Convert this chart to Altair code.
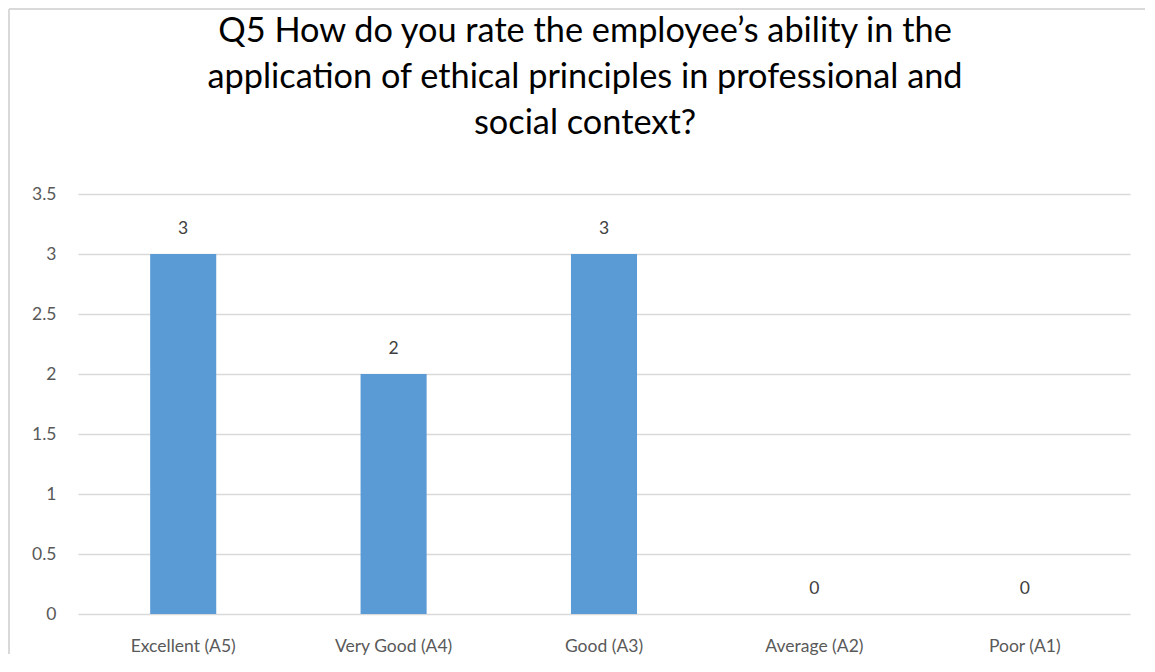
import altair as alt
import pandas as pd

categories = ["Excellent (A5)", "Very Good (A4)", "Good (A3)", "Average (A2)", "Poor (A1)"]
counts = [3, 2, 3, 0, 0]
title_lines = [
    "Q5 How do you rate the employee\u2019s ability in the",
    "application of ethical principles in professional and",
    "social context?",
]

df = pd.DataFrame({"category": categories, "count": counts})

FONT = "Lato"
LABEL_COLOR = "#595959"
BORDER = "#d9d9d9"

x = alt.X(
    "category:N",
    sort=categories,
    scale=alt.Scale(paddingInner=0.686, paddingOuter=0.343),
    axis=alt.Axis(
        title=None, labelAngle=0, domain=False, ticks=False, labelPadding=23,
        labelFontSize=17.5, labelColor=LABEL_COLOR, labelFont=FONT,
    ),
)
y = alt.Y(
    "count:Q",
    scale=alt.Scale(domain=[0, 3.5], nice=False),
    axis=alt.Axis(
        title=None, values=[0, 0.5, 1, 1.5, 2, 2.5, 3, 3.5], domain=False, ticks=False,
        labelPadding=22, labelFontSize=17.5, labelColor=LABEL_COLOR, labelFont=FONT,
        gridColor="#d9d9d9", gridWidth=1.5, labelExpr="datum.value",
    ),
)

bars = alt.Chart(df).mark_bar(color="#5b9bd5").encode(x=x, y=y)
labels = alt.Chart(df).mark_text(
    dy=-25, fontSize=17.5, color="#404040", font=FONT, baseline="middle"
).encode(x=x, y=y, text="count:Q")

# outer chart frame (top and left edges, as in the reference)
frame_top = alt.Chart(df).mark_rule(color=BORDER, strokeWidth=2).encode(
    x=alt.value(-69), x2=alt.value(1067), y=alt.value(-185)
)
frame_left = alt.Chart(df).mark_rule(color=BORDER, strokeWidth=2).encode(
    x=alt.value(-69), y=alt.value(-185), y2=alt.value(460)
)

chart = alt.layer(frame_top, frame_left, bars, labels).properties(
    width=1052,
    height=420,
    padding={"left": 0, "top": 0, "right": 0, "bottom": 0},
    title=alt.TitleParams(
        text=title_lines, fontSize=34.3, font=FONT, fontWeight="normal", color="#000000",
        anchor="middle", offset=-133, lineHeight=46, dx=-19,
    ),
).configure_view(stroke=None)

chart.save("out.html", embed_options={"renderer": "svg", "actions": False})
